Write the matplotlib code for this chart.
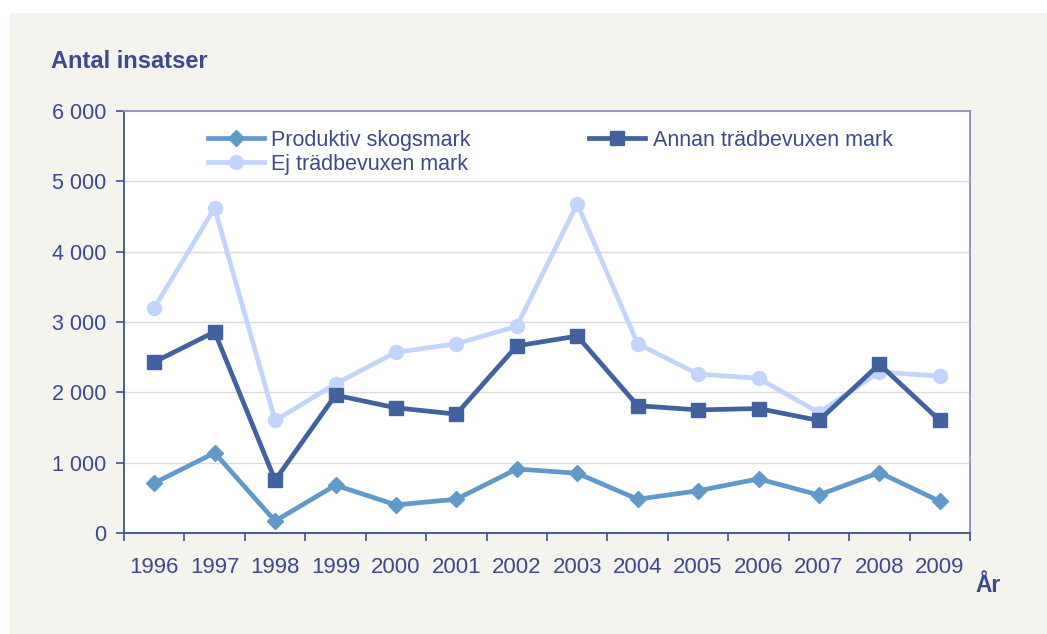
import matplotlib.pyplot as plt
from matplotlib.patches import Rectangle
from matplotlib.ticker import FuncFormatter, FixedLocator

# --- data ---
years = ["1996", "1997", "1998", "1999", "2000", "2001", "2002",
         "2003", "2004", "2005", "2006", "2007", "2008", "2009"]
produktiv = [710, 1140, 170, 680, 400, 480, 910, 850, 480, 600, 770, 540, 860, 450]
annan = [2430, 2860, 750, 1960, 1780, 1690, 2660, 2800, 1810, 1750, 1770, 1600, 2400, 1600]
ej_trad = [3200, 4620, 1600, 2120, 2570, 2690, 2940, 4680, 2690, 2260, 2200, 1710, 2290, 2230]

TXT = "#3c4a8c"
AXIS = "#3d4f95"
BG = "#f4f3ee"

plt.rcParams['font.family'] = ['Liberation Sans', 'DejaVu Sans']

fig = plt.figure(figsize=(10.47, 6.34), dpi=100)
fig.patch.set_facecolor("white")
# beige panel behind the chart
fig.add_artist(Rectangle((10 / 1047, 0), 1 - 10 / 1047, 1 - 13 / 634,
                         transform=fig.transFigure, facecolor=BG,
                         edgecolor="none", zorder=-10))

ax = fig.add_axes([124 / 1047, 101 / 634, 846 / 1047, 422 / 634])
ax.set_facecolor("white")

x = list(range(len(years)))
l_p, = ax.plot(x, produktiv, color="#6199cb", lw=3.4, marker="D", ms=8,
               label="Produktiv skogsmark", zorder=3)
l_a, = ax.plot(x, annan, color="#41619f", lw=3.4, marker="s", ms=10,
               label="Annan trädbevuxen mark", zorder=4)
l_e, = ax.plot(x, ej_trad, color="#c3d5fd", lw=3.4, marker="o", ms=10,
               label="Ej trädbevuxen mark", zorder=2)

ax.set_xlim(-0.5, len(years) - 0.5)
ax.set_ylim(0, 6000)
ax.set_yticks(range(0, 6001, 1000))
ax.yaxis.set_major_formatter(FuncFormatter(lambda v, p: f"{int(v):,}".replace(",", " ")))
ax.grid(axis="y", color="#dcdcdc", lw=1)
ax.set_axisbelow(True)

# category labels centred, tick marks between categories
ax.xaxis.set_major_locator(FixedLocator([i - 0.5 for i in range(len(years) + 1)]))
ax.xaxis.set_minor_locator(FixedLocator(x))
ax.set_xticklabels([])
ax.set_xticklabels(years, minor=True)
ax.tick_params(axis="x", which="major", length=6, color=AXIS, width=1.2)
ax.tick_params(axis="x", which="minor", length=0, pad=17, labelsize=16, labelcolor=TXT)
ax.tick_params(axis="y", length=6, color=AXIS, width=1.2, pad=7,
               labelsize=15.5, labelcolor=TXT)

for s in ["left", "bottom"]:
    ax.spines[s].set_color(AXIS)
    ax.spines[s].set_linewidth(1.3)
for s in ["top", "right"]:
    ax.spines[s].set_color("#8a93bf")
    ax.spines[s].set_linewidth(1.3)

leg = ax.legend(handles=[l_p, l_e, l_a], ncol=2, loc="upper left",
                bbox_to_anchor=(199 / 1047, 1 - 121 / 634),
                bbox_transform=fig.transFigure, frameon=False, fontsize=15.5,
                handlelength=2.6, columnspacing=5.5, labelspacing=0.15,
                handletextpad=0.35, borderaxespad=0)
for t in leg.get_texts():
    t.set_color(TXT)

fig.text(51 / 1047, 1 - 62 / 634, "Antal insatser", fontsize=17, fontweight="bold",
         color=TXT, va="center", ha="left")
fig.text(975 / 1047, 1 - 586 / 634, "År", fontsize=16.5, fontweight="bold",
         color=TXT, va="center", ha="left")

fig.savefig("out.png", dpi=100, facecolor=fig.get_facecolor())
